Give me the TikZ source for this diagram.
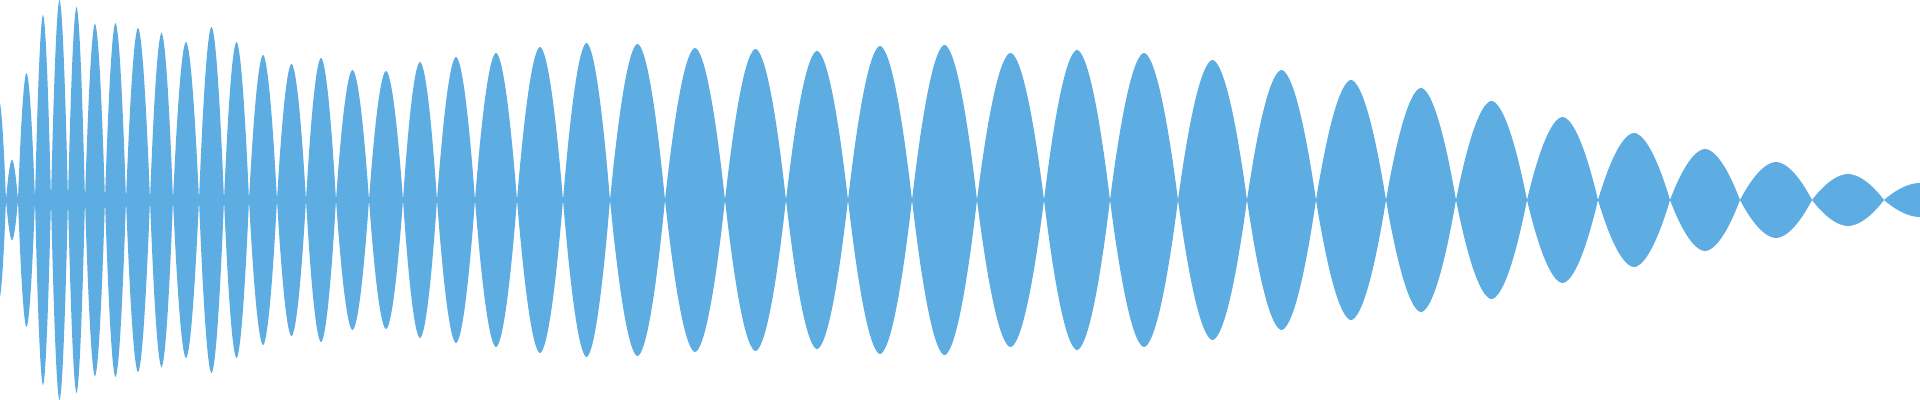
\documentclass[tikz,border=0pt]{standalone}
\definecolor{wavecol}{HTML}{5DACE2}
\begin{document}
\begin{tikzpicture}[x=0.05cm,y=0.05cm,wave/.style={fill=wavecol}]
\useasboundingbox (0,-200) rectangle (1920,200);
\clip (0,-200) rectangle (1920,200);
\foreach \a/\b/\A in {-8/6/100, 6/18/40, 18/35/127, 35/51/185, 51/68/200, 68/85/193, 85/105/176, 105/126/177, 126/150/172, 150/173/167, 173/199/158, 199/224/173, 224/249/158, 249/277/145, 277/306/136, 306/336/142, 336/369/130, 369/403/129, 403/437/138, 437/475/143, 475/517/147, 517/563/153, 563/610/157, 610/665/156, 665/725/152, 725/786/151, 786/848/149, 848/912/154, 912/977/155, 977/1044/147, 1044/1110/150, 1110/1178/147, 1178/1247/140, 1247/1316/130, 1316/1386/120, 1386/1456/112, 1456/1527/99, 1527/1598/83, 1598/1670/67, 1670/1740/51, 1740/1812/38, 1812/1884/26, 1884/1955/17}
{
  \fill[wave] plot[variable=\t,domain=0:1,samples=61] ({\a+(\b-\a)*\t},{\A*(1-pow(abs(2*\t-1),1.8))})
    -- plot[variable=\t,domain=1:0,samples=61] ({\a+(\b-\a)*\t},{-\A*(1-pow(abs(2*\t-1),1.8))}) -- cycle;
}
\end{tikzpicture}
\end{document}
